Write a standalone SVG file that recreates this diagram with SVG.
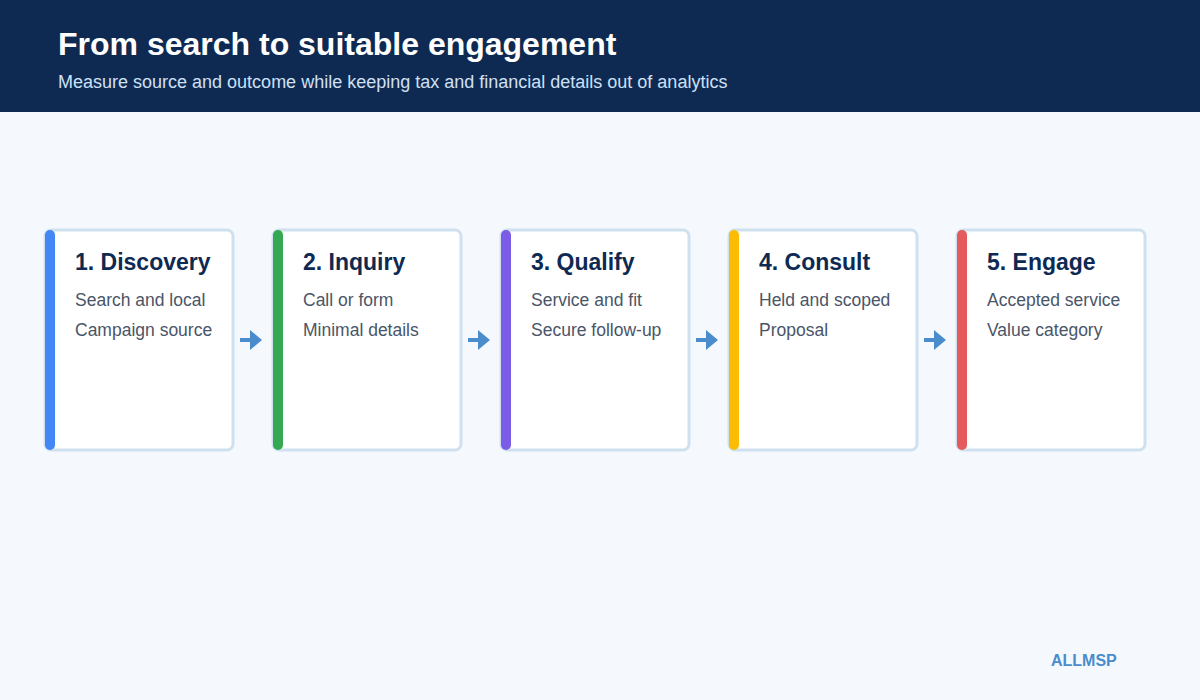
<svg xmlns="http://www.w3.org/2000/svg" width="1200" height="700" viewBox="0 0 1200 700">
<defs>
<style>
.card{fill:#fff;stroke:#cfe0ef;stroke-width:3}
.t{font-family:"Liberation Sans",Arial,sans-serif;font-weight:bold;font-size:23px;fill:#0e2a52}
.b{font-family:"Liberation Sans",Arial,sans-serif;font-size:17.5px;fill:#4a5568}
.c{stroke:#4a8ccc;stroke-width:4;fill:none;marker-end:url(#ah)}
</style>
<marker id="ah" markerWidth="4" markerHeight="5" refX="2" refY="2.5" orient="auto" markerUnits="strokeWidth"><path d="M0,0 L3,2.5 L0,5 Z" fill="#4a8ccc"/></marker>
</defs>
<rect width="1200" height="700" fill="#f5f9fe"/>
<rect width="1200" height="112" fill="#0e2a52"/>
<text x="58" y="55" font-family="Liberation Sans,Arial,sans-serif" font-weight="bold" font-size="32" fill="#fff">From search to suitable engagement</text>
<text x="58" y="88" font-family="Liberation Sans,Arial,sans-serif" font-size="18" fill="#cfe0f5">Measure source and outcome while keeping tax and financial details out of analytics</text>
<g id="connectors">
<line class="c" x1="240" y1="340" x2="258" y2="340"/>
<line class="c" x1="468" y1="340" x2="486" y2="340"/>
<line class="c" x1="696" y1="340" x2="714" y2="340"/>
<line class="c" x1="924" y1="340" x2="942" y2="340"/>
</g>
<g id="n1"><rect class="card" x="45" y="230" width="188" height="220" rx="6"/><rect x="45" y="230" width="10" height="220" rx="5" fill="#4287f5"/><text class="t" x="75" y="270">1. Discovery</text><text class="b" x="75" y="306">Search and local</text><text class="b" x="75" y="336">Campaign source</text></g>
<g id="n2"><rect class="card" x="273" y="230" width="188" height="220" rx="6"/><rect x="273" y="230" width="10" height="220" rx="5" fill="#34a853"/><text class="t" x="303" y="270">2. Inquiry</text><text class="b" x="303" y="306">Call or form</text><text class="b" x="303" y="336">Minimal details</text></g>
<g id="n3"><rect class="card" x="501" y="230" width="188" height="220" rx="6"/><rect x="501" y="230" width="10" height="220" rx="5" fill="#7b5ce6"/><text class="t" x="531" y="270">3. Qualify</text><text class="b" x="531" y="306">Service and fit</text><text class="b" x="531" y="336">Secure follow-up</text></g>
<g id="n4"><rect class="card" x="729" y="230" width="188" height="220" rx="6"/><rect x="729" y="230" width="10" height="220" rx="5" fill="#fbbc05"/><text class="t" x="759" y="270">4. Consult</text><text class="b" x="759" y="306">Held and scoped</text><text class="b" x="759" y="336">Proposal</text></g>
<g id="n5"><rect class="card" x="957" y="230" width="188" height="220" rx="6"/><rect x="957" y="230" width="10" height="220" rx="5" fill="#e55b5b"/><text class="t" x="987" y="270">5. Engage</text><text class="b" x="987" y="306">Accepted service</text><text class="b" x="987" y="336">Value category</text></g>
<text x="1051" y="666" font-family="Liberation Sans,Arial,sans-serif" font-weight="bold" font-size="16" fill="#4a8ccc">ALLMSP</text>
</svg>
